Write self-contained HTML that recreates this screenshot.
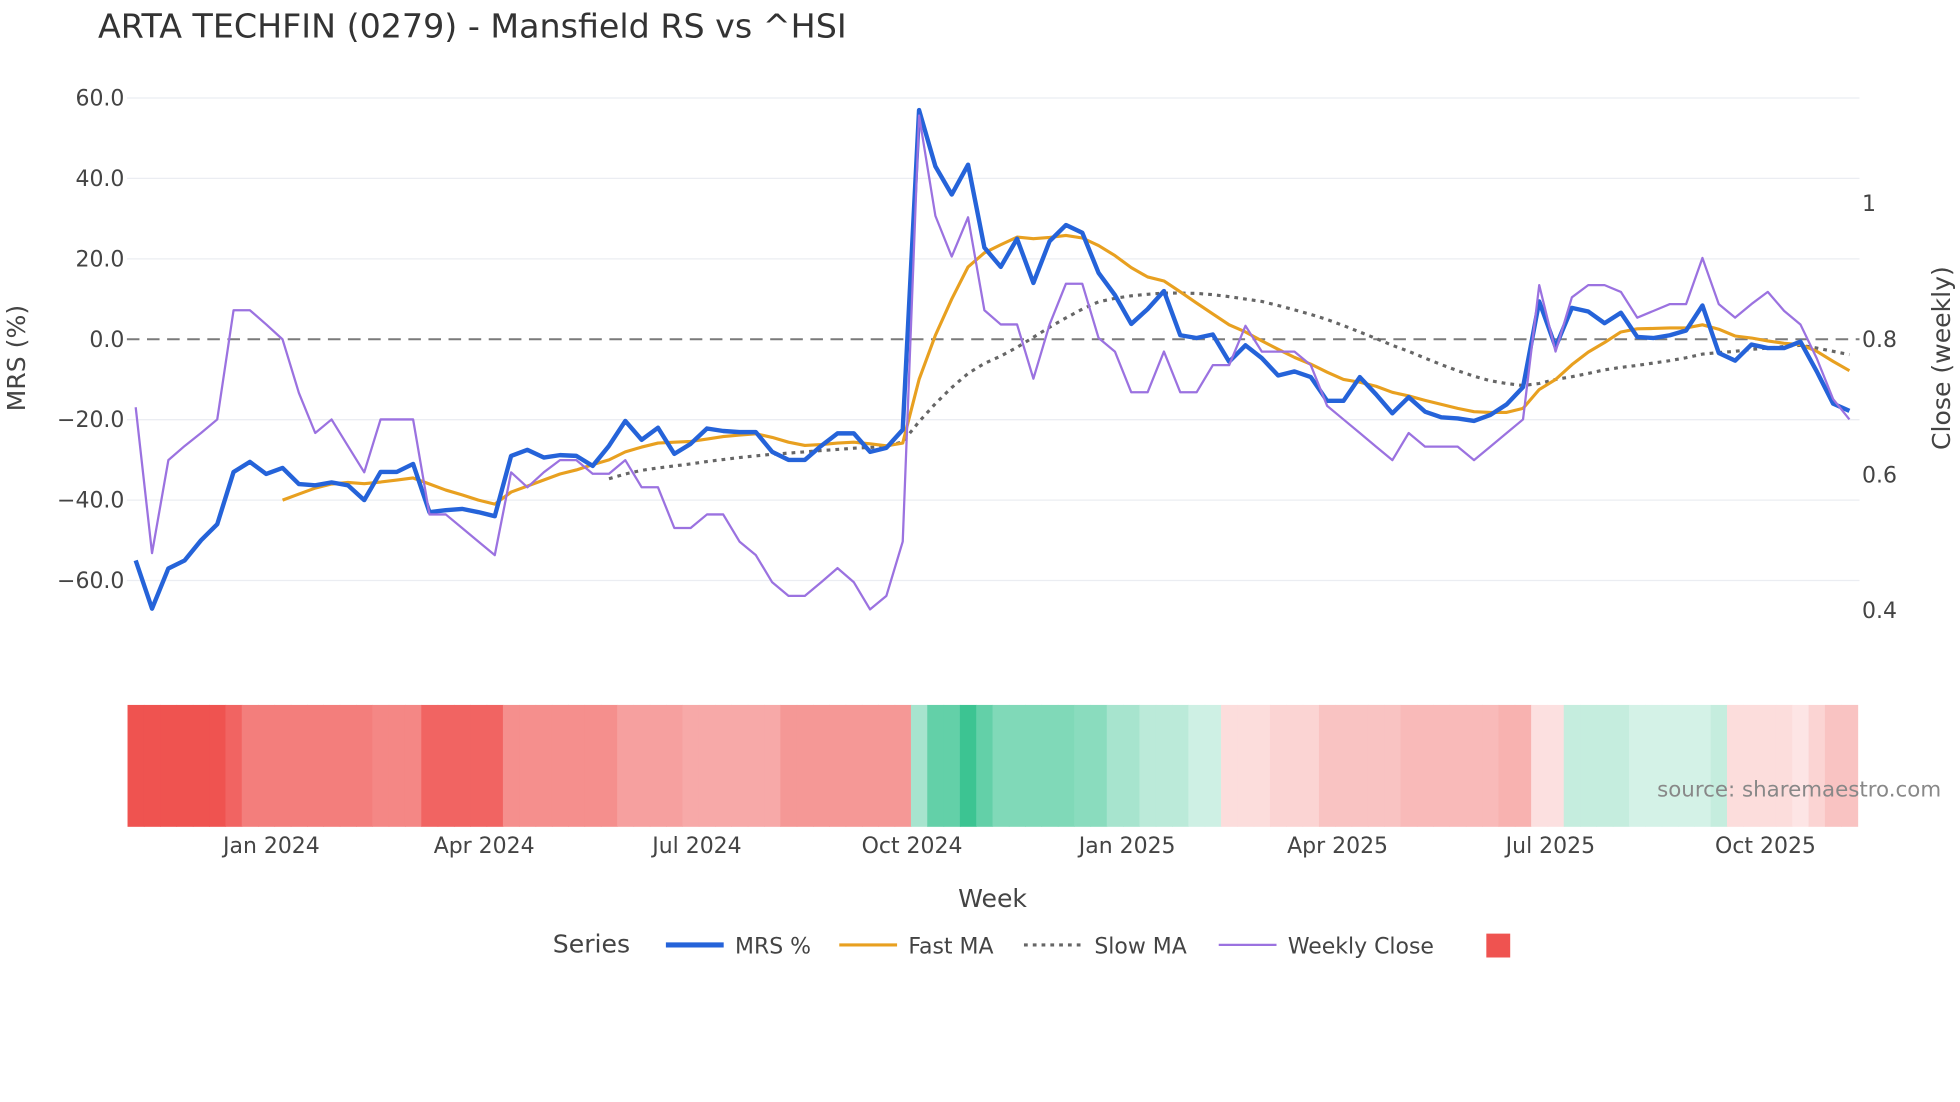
<!DOCTYPE html>
<html><head><meta charset="utf-8"><style>
html,body{margin:0;padding:0;background:#fff;}
svg{display:block;font-family:"DejaVu Sans","Liberation Sans",sans-serif;}
</style></head><body>
<svg id="chart" width="1960" height="1102" viewBox="0 0 1560 877" preserveAspectRatio="none" xmlns="http://www.w3.org/2000/svg">
<text x="78" y="30" font-size="26.5" fill="#333">ARTA TECHFIN (0279) - Mansfield RS vs ^HSI</text>
<g id="grid"></g>
<g id="heat"></g>
<g id="series"></g>
<g id="axes"></g>
<text transform="translate(20,285) rotate(-90)" text-anchor="middle" font-size="20" fill="#444">MRS (%)</text>
<text transform="translate(1552,285) rotate(-90)" text-anchor="middle" font-size="20" fill="#444">Close (weekly)</text>
<text x="790" y="722" text-anchor="middle" font-size="20" fill="#444">Week</text>
<text x="1545" y="634" text-anchor="end" font-size="17" fill="#888">source: sharemaestro.com</text>
<g>
<text x="440" y="758" font-size="20" fill="#444">Series</text>
<g><line x1="530" y1="752" x2="576" y2="752" stroke="#2563d9" stroke-width="4"/><text x="585" y="759" font-size="17.5" fill="#444">MRS %</text></g>
<g><line x1="668" y1="752" x2="714" y2="752" stroke="#e8a020" stroke-width="2.5"/><text x="723" y="759" font-size="17.5" fill="#444">Fast MA</text></g>
<g><line x1="815" y1="752" x2="861" y2="752" stroke="#666" stroke-width="2.5" stroke-dasharray="3,4"/><text x="871" y="759" font-size="17.5" fill="#444">Slow MA</text></g>
<g><line x1="970" y1="752" x2="1016" y2="752" stroke="#9b72e0" stroke-width="1.8"/><text x="1025" y="759" font-size="17.5" fill="#444">Weekly Close</text></g>
<rect x="1183" y="743" width="19" height="19" fill="#ef5350"/>
</g>
</svg>
<script>
const mrs=[-55,-67,-57,-55,-50,-46,-33,-30.5,-33.5,-32,-36,-36.3,-35.6,-36.3,-40,-33,-33,-31,-43,-42.5,-42.2,-43,-44,-29,-27.5,-29.4,-28.8,-29,-31.5,-26.5,-20.3,-25,-22,-28.5,-26,-22.2,-22.8,-23.1,-23.1,-28,-30,-30,-26.5,-23.4,-23.4,-28,-27,-22.5,57,43,36,43.4,22.8,18,25,14,24.4,28.4,26.5,16.5,11,3.8,7.5,12,1,0.3,1.2,-5.6,-1.5,-4.7,-9,-8,-9.4,-15.3,-15.3,-9.4,-13.7,-18.4,-14.4,-18,-19.4,-19.7,-20.3,-18.8,-16.2,-11.9,9.4,-1.9,7.8,6.9,4,6.6,0.6,0.3,1,2.2,8.4,-3.4,-5.3,-1.3,-2.2,-2.2,-0.6,-8,-16,-17.8];
const closeW=[0.698,0.483,0.62,0.641,0.66,0.68,0.841,0.841,0.82,0.798,0.719,0.66,0.68,0.641,0.602,0.68,0.68,0.68,0.54,0.54,0.52,0.5,0.48,0.602,0.58,0.602,0.62,0.62,0.6,0.6,0.62,0.58,0.58,0.52,0.52,0.54,0.54,0.5,0.48,0.44,0.42,0.42,0.44,0.461,0.44,0.4,0.42,0.5,1.128,0.98,0.92,0.978,0.841,0.82,0.82,0.74,0.82,0.88,0.88,0.8,0.78,0.72,0.72,0.78,0.72,0.72,0.76,0.76,0.818,0.78,0.78,0.78,0.76,0.7,0.68,0.66,0.64,0.62,0.66,0.64,0.64,0.64,0.62,0.64,0.66,0.68,0.878,0.78,0.86,0.878,0.878,0.868,0.83,0.84,0.85,0.85,0.918,0.85,0.83,0.85,0.868,0.84,0.82,0.77,0.71,0.68];
const fastStart=9;
const fastMA=[-40,-38.5,-37,-36,-35.6,-35.9,-35.5,-35,-34.5,-36,-37.5,-38.7,-40,-41,-38,-36.5,-35,-33.5,-32.5,-31.2,-30,-28,-26.8,-25.8,-25.6,-25.4,-24.8,-24.2,-23.8,-23.5,-24.4,-25.6,-26.4,-26.2,-25.8,-25.6,-26,-26.5,-25.8,-10,1,10,18,21.5,23.5,25.4,25,25.3,25.8,25.2,23.3,20.8,17.8,15.5,14.5,11.8,9,6.3,3.6,1.8,-0.4,-2.5,-4.5,-6.2,-8.2,-10,-10.7,-11.7,-13.2,-14.1,-15.2,-16.2,-17.2,-18,-18.2,-18.2,-17.2,-12.5,-10,-6.3,-3.2,-0.8,1.8,2.6,2.7,2.8,2.8,3.6,2.5,0.8,0.3,-0.4,-1,-1.3,-3,-5.5,-7.8];
const slowStart=29;
const slowMA=[-34.7,-33.5,-32.6,-32,-31.5,-31,-30.4,-29.9,-29.4,-29,-28.6,-28.3,-28,-27.7,-27.4,-27.1,-26.9,-26.6,-25.5,-20.5,-16,-12,-8.5,-6,-4.2,-2,0.5,3,5.3,7.5,9.3,10.2,10.8,11.2,11.5,11.5,11.4,11.1,10.6,10,9.4,8.4,7.3,6.2,4.9,3.4,1.8,0.2,-1.5,-3,-4.7,-6.3,-7.8,-9.2,-10.3,-11,-11.5,-11,-10,-9.3,-8.5,-7.6,-7,-6.5,-5.9,-5.3,-4.6,-3.7,-3.3,-3,-2.5,-2.2,-1.8,-1.5,-2.2,-3,-3.8];
const heat=[-1,-1,-1,-1,-1,-1,-0.9,-0.75,-0.75,-0.75,-0.75,-0.75,-0.75,-0.75,-0.75,-0.7,-0.7,-0.7,-0.9,-0.9,-0.9,-0.9,-0.9,-0.65,-0.65,-0.65,-0.65,-0.65,-0.65,-0.65,-0.55,-0.55,-0.55,-0.55,-0.5,-0.5,-0.5,-0.5,-0.5,-0.5,-0.6,-0.6,-0.6,-0.6,-0.6,-0.6,-0.6,-0.6,0.45,0.8,0.8,1,0.8,0.65,0.65,0.65,0.65,0.65,0.6,0.6,0.45,0.45,0.35,0.35,0.35,0.25,0.25,-0.2,-0.2,-0.2,-0.25,-0.25,-0.25,-0.35,-0.35,-0.35,-0.35,-0.35,-0.4,-0.4,-0.4,-0.4,-0.4,-0.4,-0.45,-0.45,-0.18,-0.18,0.3,0.3,0.3,0.3,0.22,0.22,0.22,0.22,0.22,0.3,-0.2,-0.2,-0.2,-0.2,-0.15,-0.25,-0.35,-0.35];
const mrsTicks=[60,40,20,0,-20,-40,-60];
const closeTicks=[1,0.8,0.6,0.4];
const closeTickLabels=["1","0.8","0.6","0.4"];
const monthLabels=["Jan 2024","Apr 2024","Jul 2024","Oct 2024","Jan 2025","Apr 2025","Jul 2025","Oct 2025"];
const monthDays=[0,91,182,274,366,456,547,639];

const NS="http://www.w3.org/2000/svg";
const X0=108, STEP=12.99, L=101, R=1480;
const xAt=i=>X0+i*STEP;
const xDay=d=>216+d*1.861;
const yM=v=>270-v*3.2;
const yC=v=>269-(v-0.8)*540;
function mk(tag,attrs,parent){const e=document.createElementNS(NS,tag);for(const k in attrs)e.setAttribute(k,attrs[k]);parent.appendChild(e);return e;}
const grid=document.getElementById('grid'),heatG=document.getElementById('heat'),ser=document.getElementById('series'),ax=document.getElementById('axes');

mrsTicks.forEach(t=>{
  if(t!==0){const g=mk('line',{x1:L,x2:R,y1:yM(t),y2:yM(t),stroke:'#ebedf2','stroke-width':1},grid);
  
  }
  const tx=mk('text',{x:99,y:yM(t)+6,'text-anchor':'end','font-size':17.5,fill:'#444'},ax);
  tx.textContent=t.toFixed(1).replace('-','\u2212');
  
  
});
closeTicks.forEach((t,k)=>{
  const tx=mk('text',{x:1482,y:yC(t)+7,'font-size':17.5,fill:'#444'},ax);
  tx.textContent=closeTickLabels[k];
  
  
});
monthLabels.forEach((m,k)=>{
  const tx=mk('text',{x:xDay(monthDays[k]),y:679,'text-anchor':'middle','font-size':17.5,fill:'#444'},ax);
  tx.textContent=m;
  
  
});
const zl=mk('line',{x1:L,x2:R,y1:yM(0),y2:yM(0),stroke:'#7a7a7a','stroke-width':1.6,'stroke-dasharray':'10,6'},grid);



function col(v){const a=Math.min(1,Math.abs(v));const c=v<0?[239,83,80]:[60,196,146];
  return 'rgb('+c.map(x=>Math.round(255+(x-255)*a)).join(',')+')';}
heat.forEach((v,i)=>{
  const x1=Math.max(L,xAt(i)-STEP/2),x2=Math.min(R,xAt(i)+STEP/2+0.5);
  const r=mk('rect',{x:x1,y:561,width:x2-x1,height:97,fill:col(v)},heatG);
  
  
});

function path(vals,start,yf,attrs,name){
  const d=vals.map((v,k)=>(k?'L':'M')+xAt(start+k).toFixed(1)+','+yf(v).toFixed(1)).join(' ');
  const p=mk('path',Object.assign({d:d,fill:'none','stroke-linejoin':'round'},attrs),ser);
  
  
}
path(slowMA,slowStart,yM,{stroke:'#666','stroke-width':2.5,'stroke-dasharray':'3,4'},'slow-ma-line');
path(fastMA,fastStart,yM,{stroke:'#e8a020','stroke-width':2.5},'fast-ma-line');
path(mrs,0,yM,{stroke:'#2563d9','stroke-width':3.5},'mrs-line');
path(closeW,0,yC,{stroke:'#9b72e0','stroke-width':1.8},'weekly-close-line');
</script>
</body></html>
